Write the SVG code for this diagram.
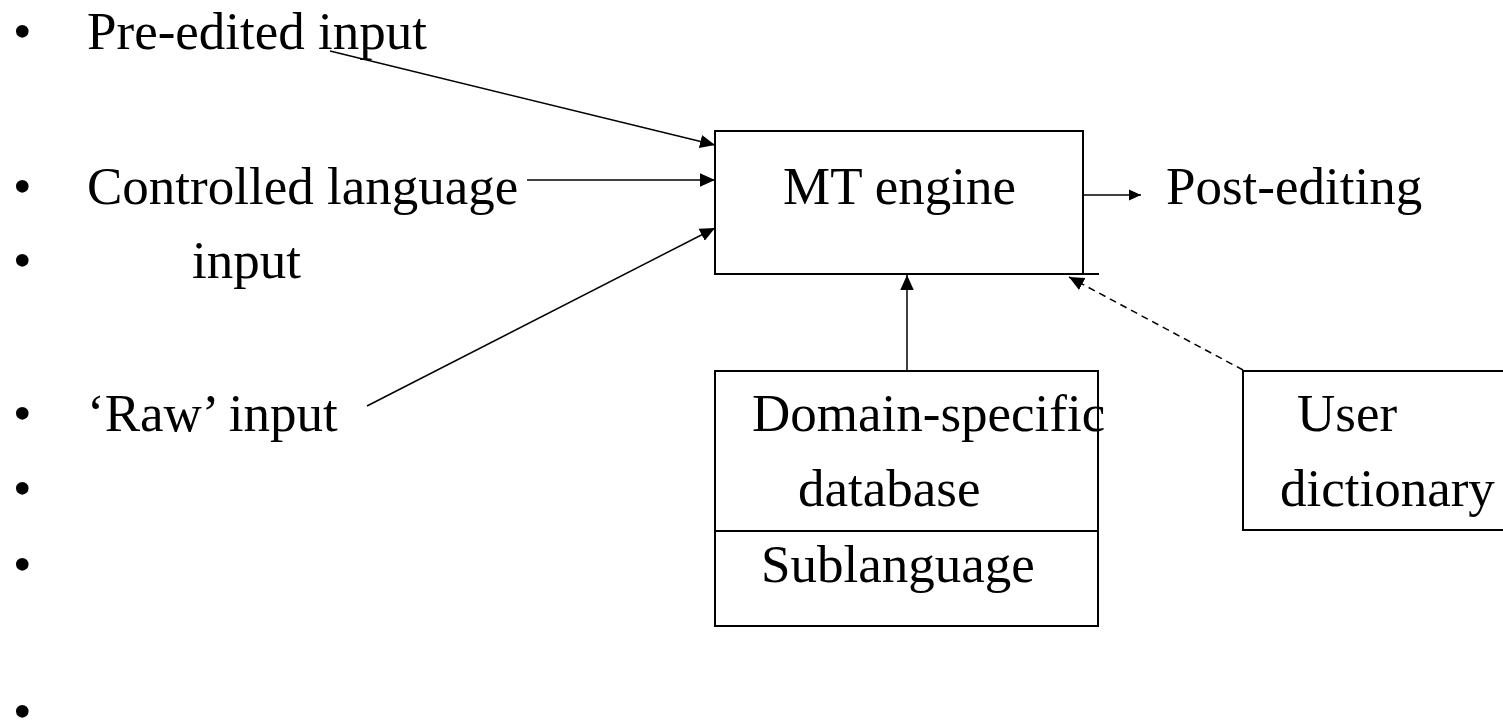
<svg xmlns="http://www.w3.org/2000/svg" width="1503" height="723" viewBox="0 0 1503 723">
<style>
text{font-family:"Liberation Serif","Times New Roman",serif;font-size:53px;fill:#000}
.box{fill:none;stroke:#000;stroke-width:2}
.c{stroke:#000;stroke-width:1.5;fill:none}
.d{stroke-dasharray:7,5}
</style>
<defs>
<marker id="ah" viewBox="0 0 10 10" refX="10" refY="5" markerWidth="12" markerHeight="12" markerUnits="userSpaceOnUse" orient="auto">
<path d="M0,0.5 L10,5 L0,9.5 Z" fill="#000"/>
</marker>
<marker id="ah2" viewBox="0 0 10 10" refX="10" refY="5" markerWidth="15" markerHeight="15" markerUnits="userSpaceOnUse" orient="auto">
<path d="M0,0.5 L10,5 L0,9.5 Z" fill="#000"/>
</marker>
</defs>
<g id="bullets">
<text x="13" y="49">•</text>
<text x="13" y="204">•</text>
<text x="13" y="278">•</text>
<text x="13" y="431">•</text>
<text x="13" y="506">•</text>
<text x="13" y="582">•</text>
<text x="13" y="729">•</text>
</g>
<g id="pre-edited"><text x="87" y="49">Pre-edited input</text></g>
<g id="controlled"><text x="87" y="204">Controlled language</text><text x="192" y="278">input</text></g>
<g id="raw"><text x="87" y="431">‘Raw’ input</text></g>
<g id="mt-engine">
<rect class="box" x="715" y="131" width="368" height="143"/>
<line class="box" x1="1083" y1="274" x2="1099" y2="274"/>
<text x="783" y="204">MT engine</text>
</g>
<g id="post-editing"><text x="1166" y="204">Post-editing</text></g>
<g id="domain-db">
<rect class="box" x="715" y="371" width="383" height="255"/>
<line class="box" x1="715" y1="531" x2="1098" y2="531"/>
<text x="752" y="431">Domain-specific</text>
<text x="798" y="506">database</text>
<text x="761" y="582">Sublanguage</text>
</g>
<g id="user-dict">
<rect class="box" x="1243" y="371" width="270" height="159"/>
<text x="1297" y="431">User</text>
<text x="1280" y="506">dictionary</text>
</g>
<g id="connectors">
<line class="c" x1="330" y1="51" x2="715" y2="145" marker-end="url(#ah2)"/>
<line class="c" x1="527" y1="180" x2="715" y2="180" marker-end="url(#ah2)"/>
<line class="c" x1="367" y1="406" x2="715" y2="228" marker-end="url(#ah2)"/>
<line class="c" x1="1083" y1="195" x2="1141" y2="195" marker-end="url(#ah)"/>
<line class="c" x1="907" y1="371" x2="907" y2="275" marker-end="url(#ah2)"/>
<line class="c d" x1="1243" y1="370" x2="1069" y2="277" marker-end="url(#ah2)"/>
</g>
</svg>
